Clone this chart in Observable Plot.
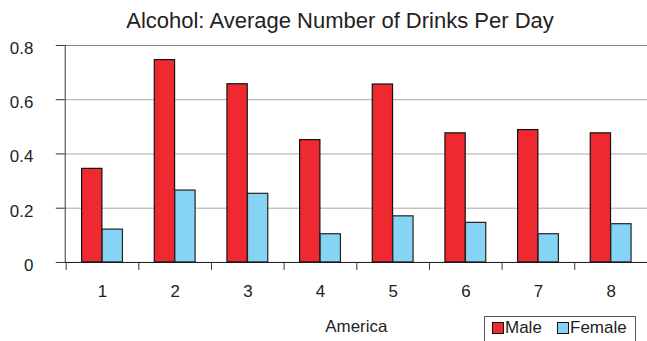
<!DOCTYPE html>
<html>
<head>
<meta charset="utf-8">
<script src="https://cdn.jsdelivr.net/npm/d3@7"></script>
<script src="https://cdn.jsdelivr.net/npm/@observablehq/plot@0.6"></script>
<style>
  html, body { margin: 0; padding: 0; background: #fff; overflow: hidden; }
  #wrap { position: relative; width: 647px; height: 341px; overflow: hidden; font-family: "Liberation Sans", Arial, Helvetica, sans-serif; color: #222; }
  #title { position: absolute; top: 10px; left: 0; width: 680px; text-align: center; font-size: 22px; line-height: 22px; white-space: nowrap; }
  #chart { position: absolute; top: 36px; left: 0; }
  #legend { position: absolute; left: 484px; top: 316px; width: 152px; height: 40px; border: 1px solid #555; box-sizing: border-box; background: #fff; }
  #legend .sw { position: absolute; top: 5px; width: 12px; height: 12px; box-sizing: border-box; border: 1px solid #111; }
  #legend .lb { position: absolute; top: 2px; font-size: 17px; line-height: 17px; white-space: nowrap; }
</style>
</head>
<body>
<div id="wrap">
  <div id="title">Alcohol: Average Number of Drinks Per Day</div>
  <div id="chart"></div>
  <div id="legend"></div>
</div>
<script>
// Average number of drinks per day, by group, for men and women
const groups = ["1", "2", "3", "4", "5", "6", "7", "8"];
const male = [0.345, 0.746, 0.657, 0.451, 0.656, 0.476, 0.488, 0.476];
const female = [0.121, 0.265, 0.253, 0.104, 0.170, 0.146, 0.104, 0.141];
const series = ["Male", "Female"];
const colors = ["#ee2a30", "#86d4f5"];
const yTicks = [0, 0.2, 0.4, 0.6, 0.8];
const xTitle = "America";

const rows = groups.flatMap((g, i) => [
  {group: g, sex: "Male", value: male[i]},
  {group: g, sex: "Female", value: female[i]}
]);

// Frame geometry: each group band holds a pair of adjacent bars
const W = 650, mLeft = 65, mRight = 0;
const band = (W - mLeft - mRight) / groups.length;
const barW = 20.5, edge = 16;

const fmt = d => d === 0 ? "0" : d.toFixed(1);

const chart = Plot.plot({
  width: W,
  height: 305,
  marginLeft: mLeft,
  marginRight: mRight,
  marginTop: 9,
  marginBottom: 78,
  style: {fontFamily: "Liberation Sans, Arial, Helvetica, sans-serif", fontSize: "17px", color: "#222", background: "transparent", overflow: "visible"},
  x: {domain: groups, padding: 0},
  y: {domain: [0, 0.8]},
  color: {domain: series, range: colors},
  marks: [
    Plot.gridY(yTicks.filter(t => t > 0 && t < 0.8), {stroke: "#a8a8a8", strokeOpacity: 1}),
    Plot.ruleY([0.8], {stroke: "#808080"}),
    Plot.barY(rows.filter(d => d.sex === "Male"), {
      x: "group", y1: 0, y2: "value", fill: "sex", stroke: "#111", strokeWidth: 1.2,
      insetLeft: edge, insetRight: band - edge - barW
    }),
    Plot.barY(rows.filter(d => d.sex === "Female"), {
      x: "group", y1: 0, y2: "value", fill: "sex", stroke: "#222", strokeWidth: 1.2,
      insetLeft: band - edge - barW, insetRight: edge
    }),
    Plot.ruleY([0], {stroke: "#111"}),
    Plot.frame({anchor: "left", stroke: "#333"}),
    // y ticks and their labels
    Plot.axisY({ticks: yTicks, tickSize: 9, text: null, label: null, stroke: "#333"}),
    Plot.axisY({ticks: yTicks, tickSize: 0, tickPadding: 32, dy: 3, tickFormat: fmt, label: null, fill: "#222"}),
    // x labels centred in each band, ticks at the band boundaries
    Plot.axisX({tickSize: 0, tickPadding: 23, label: xTitle, labelAnchor: "center", labelOffset: 70, fill: "#222"}),
    Plot.axisX({tickSize: 8, text: null, label: null, dx: -band / 2, stroke: "#333"})
  ]
});
document.getElementById("chart").appendChild(chart);

// Legend
const legend = document.getElementById("legend");
const swLeft = [7, 72], lbLeft = [20, 85];
series.forEach((s, i) => {
  const sw = document.createElement("div");
  sw.className = "sw";
  sw.style.left = swLeft[i] + "px";
  sw.style.background = colors[i];
  legend.appendChild(sw);
  const lb = document.createElement("div");
  lb.className = "lb";
  lb.style.left = lbLeft[i] + "px";
  lb.textContent = s;
  legend.appendChild(lb);
});
</script>
</body>
</html>
